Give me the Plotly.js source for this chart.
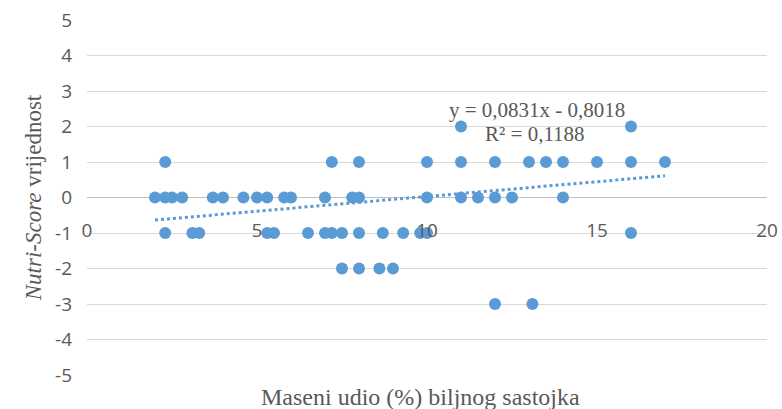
<!DOCTYPE html>
<html>
<head>
<meta charset="utf-8">
<script src="https://cdn.plot.ly/plotly-3.0.1.min.js"></script>
<style>html,body{margin:0;padding:0;background:#fff;}#chart{width:782px;height:409px;}</style>
</head>
<body>
<div id="chart"></div>
<script>
// Nutri-Score value vs mass share (%) of plant ingredient
const scoreP2 = [11, 16];
const scoreP1 = [2.3, 7.2, 8, 10, 11, 12, 13, 13.5, 14, 15, 16, 17];
const score0 = [2, 2.3, 2.5, 2.8, 3.7, 4, 4.6, 5, 5.3, 5.8, 6, 7, 7.8, 8, 10, 11, 11.5, 12, 12.5, 14];
const scoreM1 = [2.3, 3.1, 3.3, 5.3, 5.5, 6.5, 7, 7.2, 7.5, 8, 8.7, 9.3, 9.8, 10, 16];
const scoreM2 = [7.5, 8, 8.6, 9];
const scoreM3 = [12, 13.1];

const groups = [[2, scoreP2], [1, scoreP1], [0, score0], [-1, scoreM1], [-2, scoreM2], [-3, scoreM3]];
const xVals = [], yVals = [];
groups.forEach(([score, xs]) => xs.forEach(x => { xVals.push(x); yVals.push(score); }));

const trendSlope = 0.0831;
const trendIntercept = -0.8018;
const equationLine = 'y = 0,0831x - 0,8018';
const r2Line = 'R² = 0,1188';
const xTicks = [0, 5, 10, 15, 20];
const yTicks = [-5, -4, -3, -2, -1, 0, 1, 2, 3, 4, 5];

const xMin = Math.min(...xVals), xMax = Math.max(...xVals);
const trendX = [xMin, xMax];
const trendY = trendX.map(x => trendSlope * x + trendIntercept);

const color = '#5B9BD5';
const gray = '#595959';
const tickFont = {family: 'Open Sans, Liberation Sans, sans-serif', size: 19, color: gray};
const serif = 'Liberation Serif, Times New Roman, serif';

const data = [
  {x: xVals, y: yVals, type: 'scatter', mode: 'markers',
   marker: {color: color, size: 12}, hoverinfo: 'x+y'},
  {x: trendX, y: trendY, type: 'scatter', mode: 'lines',
   line: {color: color, width: 3, dash: 'dot'}, hoverinfo: 'skip'}
];

const layout = {
  width: 782, height: 409,
  margin: {l: 87, r: 15, t: 20, b: 34},
  paper_bgcolor: '#fff', plot_bgcolor: '#fff',
  showlegend: false,
  xaxis: {
    range: [0, 20], tickvals: xTicks, ticktext: xTicks.map(String),
    showgrid: false, zeroline: false, showline: false, ticks: '',
    anchor: 'free', position: 0.5, ticklabelstandoff: 19,
    tickfont: tickFont
  },
  yaxis: {
    range: [-5, 5], tickvals: yTicks, ticktext: yTicks.map(String),
    showgrid: true, gridcolor: '#D9D9D9', gridwidth: 1,
    zeroline: true, zerolinecolor: '#BFBFBF', zerolinewidth: 1.5,
    showline: false, ticks: '', ticklabelstandoff: 14,
    tickfont: tickFont,
    title: {text: '<i>Nutri-Score</i> vrijednost', font: {family: serif, size: 23, color: gray}, standoff: 6}
  },
  annotations: [
    {xref: 'x', yref: 'y', x: 13.24, y: 2.46, text: equationLine, showarrow: false,
     font: {family: serif, size: 21, color: gray}},
    {xref: 'x', yref: 'y', x: 13.18, y: 1.78, text: r2Line, showarrow: false,
     font: {family: serif, size: 21, color: gray}},
    {xref: 'paper', yref: 'paper', x: 0.49, xanchor: 'center', y: -0.062, yanchor: 'middle',
     text: 'Maseni udio (%) biljnog sastojka', showarrow: false,
     font: {family: serif, size: 24, color: gray}}
  ]
};

Plotly.newPlot('chart', data, layout, {displayModeBar: false, staticPlot: true});
</script>
</body>
</html>
